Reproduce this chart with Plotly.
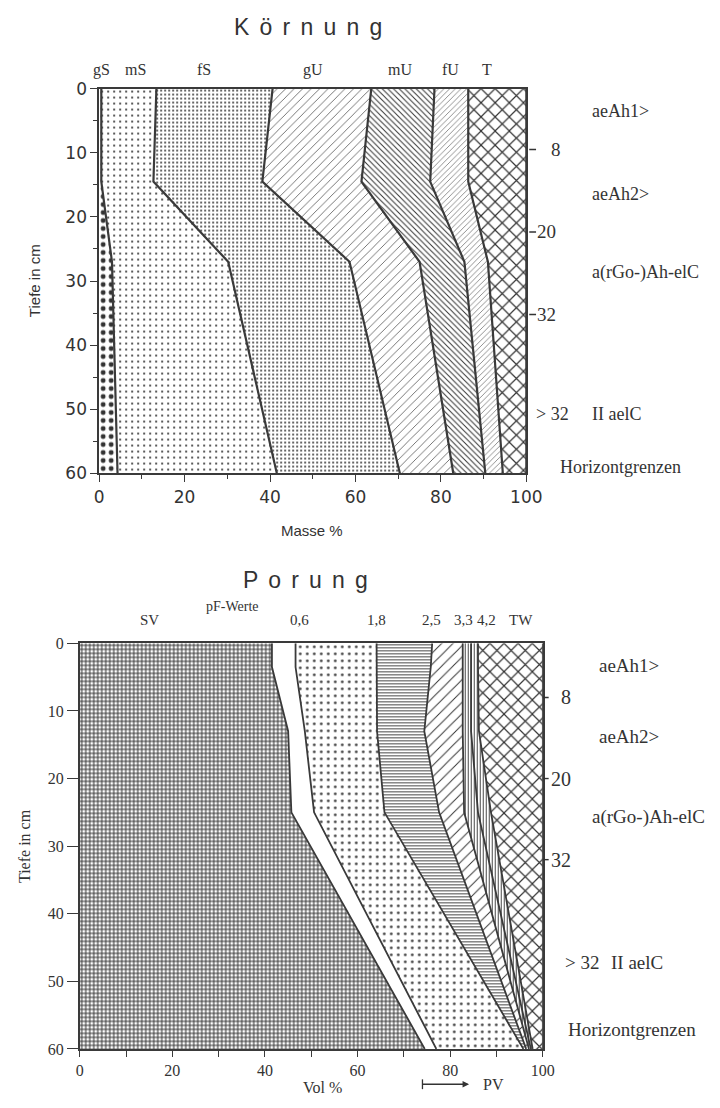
import plotly.graph_objects as go

W, H = 720, 1108

# ---------------- Körnung: cumulative mass % (Summenkurven) vs. depth ----------------
koernung_tiefe = [0, 14.5, 27, 60]
sum_gS = [0.5, 0.5, 3.0, 4.3]
sum_mS = [13.4, 12.7, 30.2, 41.6]
sum_fS = [40.6, 38.2, 58.6, 70.4]
sum_gU = [63.7, 61.4, 75.0, 82.9]
sum_mU = [78.5, 77.5, 85.5, 90.4]
sum_fU = [86.4, 86.4, 91.0, 94.5]
sum_T = [100, 100, 100, 100]
koernung_klassen = ["gS", "mS", "fS", "gU", "mU", "fU", "T"]

# ---------------- Porung: cumulative vol % vs. depth ----------------
porung_tiefe = [0, 3.5, 13, 25, 60]
sum_SV = [41.5, 41.5, 45.0, 45.7, 74.5]
sum_pF06 = [46.6, 46.6, 48.6, 50.6, 77.0]
sum_pF18 = [64.1, 64.1, 64.2, 65.8, 95.8]
sum_pF25 = [76.1, 75.8, 74.4, 77.6, 96.4]
sum_pF33 = [82.7, 82.7, 82.7, 83.0, 97.0]
sum_pF42a = [84.5, 84.5, 84.5, 86.0, 97.4]
sum_pF42 = [86.0, 86.0, 86.2, 88.8, 97.8]
sum_TW = [100, 100, 100, 100, 100]
porung_klassen = ["SV", "pF 0,6", "pF 1,8", "pF 2,5", "pF 3,3", "pF 4,2", "pF 4,2 ", "TW"]
pF_labels = ["0,6", "1,8", "2,5", "3,3", "4,2", "TW"]

# horizon boundaries (cm)
horizont_grenzen = [8, 20, 32]
horizont_text = ["8", "20", "32"]

SERIF = "Liberation Serif"
SANS = "Liberation Sans"
TICKSANS = "DejaVu Sans"
INK = "#333333"
LINE = "#3a3a3a"


def pat(shape, size, solidity, fg=INK):
    return dict(shape=shape, size=size, solidity=solidity, fgcolor=fg, bgcolor="white", fillmode="replace")


koernung_muster = [
    pat(".", 8, 0.30),
    pat(".", 6, 0.10),
    pat(".", 4, 0.20),
    pat("/", 6, 0.11),
    pat("\\", 4, 0.25),
    pat("/", 4, 0.16, "#555555"),
    pat("x", 10, 0.22),
]
porung_muster = [
    pat("+", 4, 0.45),
    None,
    pat(".", 7, 0.12),
    pat("-", 3, 0.30),
    pat("/", 8, 0.12),
    pat("|", 3, 0.30),
    pat("|", 3, 0.30),
    pat("x", 10, 0.22),
]

fig = go.Figure()

koernung_summen = [sum_gS, sum_mS, sum_fS, sum_gU, sum_mU, sum_fU, sum_T]
for i, (name, xs) in enumerate(zip(koernung_klassen, koernung_summen)):
    fig.add_trace(go.Scatter(
        x=xs, y=koernung_tiefe, name=name, mode="lines",
        line=dict(color=LINE, width=2.2),
        fill="tozerox" if i == 0 else "tonextx",
        fillpattern=koernung_muster[i], fillcolor="white",
        xaxis="x", yaxis="y", showlegend=False, hoverinfo="skip",
    ))

porung_summen = [sum_SV, sum_pF06, sum_pF18, sum_pF25, sum_pF33, sum_pF42a, sum_pF42, sum_TW]
for i, (name, xs) in enumerate(zip(porung_klassen, porung_summen)):
    kw = dict(fillpattern=porung_muster[i]) if porung_muster[i] else {}
    fig.add_trace(go.Scatter(
        x=xs, y=porung_tiefe, name=name, mode="lines",
        line=dict(color=LINE, width=1.8),
        fill="tozerox" if i == 0 else "tonextx", fillcolor="white",
        xaxis="x2", yaxis="y2", showlegend=False, hoverinfo="skip", **kw,
    ))


def px(x):
    return x / W


def py(y):
    return 1 - y / H


# plot areas in pixels
TOP = dict(x0=97, x1=537, y0=80, y1=472)
BOT = dict(x0=77, x1=554, y0=645, y1=1058)

axis_common = dict(showline=True, linecolor=LINE, linewidth=1.6, ticks="outside",
                   tickcolor=LINE, tickwidth=1.3, showgrid=False, zeroline=False)

fig.update_layout(
    width=W, height=H, margin=dict(l=0, r=0, t=0, b=0),
    paper_bgcolor="white", plot_bgcolor="white",
    xaxis=dict(domain=[px(TOP["x0"]), px(TOP["x1"])], anchor="y", range=[0, 100],
               tickvals=[0, 20, 40, 60, 80, 100], ticklen=7,
               minor=dict(dtick=10, ticklen=4, ticks="outside", tickcolor=LINE),
               tickfont=dict(family=TICKSANS, size=17, color=INK), mirror=True, **axis_common),
    yaxis=dict(domain=[py(TOP["y1"]), py(TOP["y0"])], anchor="x", range=[60, 0],
               tickvals=[0, 10, 20, 30, 40, 50, 60], ticklen=7,
               minor=dict(dtick=5, ticklen=4, ticks="outside", tickcolor=LINE),
               tickfont=dict(family=TICKSANS, size=17, color=INK), mirror=True, **axis_common),
    # separate horizon scale drawn at the right of the upper profile
    yaxis3=dict(overlaying="y", anchor="x", side="right", range=[55.14, -0.86], visible=False),
    xaxis2=dict(domain=[px(BOT["x0"]), px(BOT["x1"])], anchor="y2", range=[0, 100],
                tickvals=[0, 20, 40, 60, 80, 100], ticklen=6,
                minor=dict(dtick=10, ticklen=6, ticks="outside", tickcolor=LINE),
                tickfont=dict(family=SERIF, size=16, color=INK), mirror=True, **axis_common),
    yaxis2=dict(domain=[py(BOT["y1"]), py(BOT["y0"])], anchor="x2", range=[60, 0],
                tickvals=[0, 10, 20, 30, 40, 50, 60], ticklen=11,
                tickfont=dict(family=SERIF, size=16, color=INK), mirror=True, **axis_common),
)

ann = []
shapes = []


def text(x, y, s, size, family, anchor="center", angle=0):
    ann.append(dict(x=px(x), y=py(y), xref="paper", yref="paper", text=s, showarrow=False,
                    xanchor=anchor, yanchor="middle", textangle=angle,
                    font=dict(family=family, size=size, color=INK)))


sp = " \u2006"
# titles
text(312, 17, sp.join("Körnung"), 23, SANS)
text(310, 580, sp.join("Porung"), 23, SANS)

# grain size class labels
for s, x in zip(koernung_klassen, [99, 134, 205, 317, 407, 459, 496]):
    text(x, 61, s, 16, SERIF)

# pore class labels
text(149, 621, "SV", 15, SERIF)
text(234, 607, "pF-Werte", 14, SERIF)
for s, x in zip(pF_labels, [303, 383, 439, 472, 496, 532]):
    text(x, 621, s, 15, SERIF)

# axis titles
text(30, 276, "Tiefe in cm", 15, SANS, angle=-90)
text(316, 530, "Masse %", 15, SANS)
text(20, 851, "Tiefe in cm", 16, SERIF, angle=-90)
text(327, 1097, "Vol %", 16, SERIF)
text(490, 1094, "PV", 16, SERIF, anchor="left")


# horizon boundary marks
def horizon(yref, dash_x0, dash_x1, label_x, first_label_x, size):
    for v, s in zip(horizont_grenzen, horizont_text):
        shapes.append(dict(type="line", xref="paper", yref=yref, x0=px(dash_x0), x1=px(dash_x1),
                           y0=v, y1=v, line=dict(color=INK, width=1.4)))
        ann.append(dict(x=px(first_label_x if s == "8" else label_x), y=v, xref="paper", yref=yref,
                        text=s, showarrow=False, xanchor="left", yanchor="middle",
                        font=dict(family=SERIF, size=size, color=INK)))


horizon("y3", 540, 547, 546, 560, 19)
horizon("y2", 554, 560, 560, 571, 20)

# horizon labels, upper profile
text(603, 103, "aeAh1>", 18, SERIF, anchor="left")
text(603, 187, "aeAh2>", 18, SERIF, anchor="left")
text(603, 267, "a(rGo-)Ah-elC", 18, SERIF, anchor="left")
text(545, 411, "> 32", 18, SERIF, anchor="left")
text(603, 411, "II aelC", 18, SERIF, anchor="left")
text(570, 465, "Horizontgrenzen", 18, SERIF, anchor="left")

# horizon labels, lower profile
text(610, 668, "aeAh1>", 19, SERIF, anchor="left")
text(610, 740, "aeAh2>", 19, SERIF, anchor="left")
text(603, 822, "a(rGo-)Ah-elC", 19, SERIF, anchor="left")
text(575, 970, "> 32", 19, SERIF, anchor="left")
text(622, 970, "II aelC", 19, SERIF, anchor="left")
text(578, 1038, "Horizontgrenzen", 19, SERIF, anchor="left")

# arrow towards pore volume
ann.append(dict(x=px(478), y=py(1094), ax=-48, ay=0, xref="paper", yref="paper",
                axref="pixel", ayref="pixel", showarrow=True, arrowhead=2, arrowsize=1,
                arrowwidth=1.3, arrowcolor=INK, text=""))
shapes.append(dict(type="line", xref="paper", yref="paper", x0=px(430), x1=px(430),
                   y0=py(1089), y1=py(1099), line=dict(color=INK, width=1.3)))

fig.update_layout(annotations=ann, shapes=shapes)

fig.write_html("out.html")
